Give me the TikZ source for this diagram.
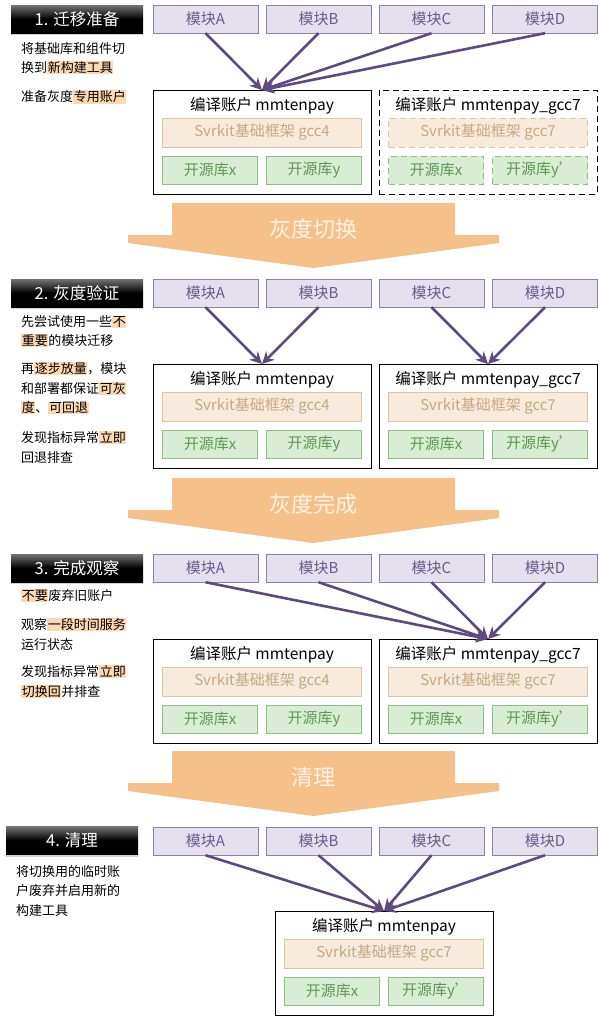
\documentclass[tikz,border=0pt]{standalone}
\usepackage{fontspec}
\setmainfont{Noto Sans CJK SC}
\usetikzlibrary{arrows.meta,shadows,positioning}

% Colors
\definecolor{modfill}{HTML}{E5DFEE}
\definecolor{moddraw}{HTML}{8D80A8}
\definecolor{modtext}{HTML}{6B5B8C}
\definecolor{linkcolor}{HTML}{5E4A80}
\definecolor{fwfill}{HTML}{F6EBDD}
\definecolor{fwdraw}{HTML}{DDC4A3}
\definecolor{fwtext}{HTML}{C9A77F}
\definecolor{libfill}{HTML}{D9EDD4}
\definecolor{libdraw}{HTML}{8FBF86}
\definecolor{libtext}{HTML}{5B9A50}
\definecolor{flowcolor}{HTML}{F6C08A}
\definecolor{flowtext}{HTML}{FFF3E6}
\definecolor{hlcolor}{HTML}{FDD8B0}

% highlighted words
\newcommand\hl[1]{{\setlength{\fboxsep}{0.6pt}\colorbox{hlcolor}{#1}}}

% one build account: [style] name, x, top y, title, gcc, second lib
\newcommand\account[7][]{%
\node[acc,#1,anchor=north] (#2) at (#3,#4) {};
\node[acc title] (#2-t) at ([yshift=-16pt]#2.north) {编译账户 #5};
\node[fw,#1] (#2-fw) at ([yshift=-42.5pt]#2.north) {Svrkit基础框架 #6};
\node[lib,#1] (#2-x) at ([xshift=-52pt,yshift=-80pt]#2.north) {开源库x};
\node[lib,#1] (#2-y) at ([xshift=52pt,yshift=-80pt]#2.north) {开源库#7};
}

% big orange arrow between the steps: name, top y, text
\newcommand\bigarrow[3]{%
\fill[flowcolor] (172,#2) -- (455,#2) -- (455,#2+32) -- (499,#2+32) -- (499,#2+40)
-- (313.5,#2+65) -- (128,#2+40) -- (128,#2+32) -- (172,#2+32) -- cycle;
\node[flow text] (#1) at (313.5,#2+26) {#3};
}

\begin{document}
\begin{tikzpicture}
[x=1pt,y=-1pt,
% Styles
stage/.style={minimum width=132pt,minimum height=28pt,inner sep=0pt,text=white,
  top color=black!55,bottom color=black,middle color=black,
  drop shadow={shadow xshift=0pt,shadow yshift=-2pt,opacity=0.35},
  font=\fontsize{16.5}{18}\selectfont},
module/.style={draw=moddraw,fill=modfill,text=modtext,minimum width=105pt,
  minimum height=28pt,inner sep=0pt,font=\fontsize{15}{18}\selectfont},
acc/.style={draw=black,line width=0.9pt,minimum width=218pt,minimum height=104pt,inner sep=0pt},
acc title/.style={inner sep=0pt,font=\fontsize{15.5}{18}\selectfont},
fw/.style={draw=fwdraw,fill=fwfill,text=fwtext,minimum width=199pt,minimum height=29pt,
  inner sep=0pt,font=\fontsize{15}{18}\selectfont},
lib/.style={draw=libdraw,fill=libfill,text=libtext,minimum width=95pt,minimum height=28pt,
  inner sep=0pt,font=\fontsize{15}{18}\selectfont},
spare/.style={dashed,dash pattern=on 6pt off 4pt},
link/.style={draw=linkcolor,line width=2.6pt,-{Stealth[length=12pt,width=12pt]}},
flow text/.style={text=flowtext,inner sep=0pt,font=\fontsize{22}{24}\selectfont},
note/.style={anchor=north west,inner sep=0pt,align=left,font=\fontsize{13}{19.5}\selectfont}]
\useasboundingbox (0,0) rectangle (598,1017);

% Step labels
\node[stage] (s1) at (77,19) {1. 迁移准备};
\node[stage] (s2) at (77,293) {2. 灰度验证};
\node[stage] (s3) at (77,568) {3. 完成观察};
\node[stage] (s4) at (72,840.5) {4. 清理};

% Modules
\foreach \s/\y in {1/19,2/293,3/568,4/841}
\foreach \m/\x in {A/205.5,B/318.5,C/431.5,D/545}
\node[module] (m\s\m) at (\x,\y) {模块\m};

% Build accounts
\account{acc1l}{262}{90}{mmtenpay}{gcc4}{y}
\account[spare]{acc1r}{488}{90}{mmtenpay\_gcc7}{gcc7}{y'}
\account{acc2l}{262}{364}{mmtenpay}{gcc4}{y}
\account{acc2r}{488}{364}{mmtenpay\_gcc7}{gcc7}{y'}
\account{acc3l}{262}{639}{mmtenpay}{gcc4}{y}
\account{acc3r}{488}{639}{mmtenpay\_gcc7}{gcc7}{y'}
\account{acc4}{384}{911}{mmtenpay}{gcc7}{y'}

% Links
\foreach \m in {A,B,C,D}
\draw[link] (m1\m.south) -- (acc1l.north);
\foreach \m in {A,B}
\draw[link] (m2\m.south) -- (acc2l.north);
\foreach \m in {C,D}
\draw[link] (m2\m.south) -- (acc2r.north);
\foreach \m in {A,B,C,D}
\draw[link] (m3\m.south) -- (acc3r.north);
\foreach \m in {A,B,C,D}
\draw[link] (m4\m.south) -- (acc4.north);

% Transitions
\bigarrow{f1}{203}{灰度切换}
\bigarrow{f2}{478}{灰度完成}
\bigarrow{f3}{751}{清理}

% Notes
\node[note] (n1a) at (21,42) {将基础库和组件切\\换到\hl{新构建工具}};
\node[note] (n1b) at (21,90) {准备灰度\hl{专用账户}};
\node[note] (n2a) at (21,315) {先尝试使用一些\hl{不}\\\hl{重要}的模块迁移};
\node[note] (n2b) at (21,362) {再\hl{逐步放量}，模块\\和部署都保证\hl{可灰}\\\hl{度}、\hl{可回退}};
\node[note] (n2c) at (21,431) {发现指标异常\hl{立即}\\回退排查};
\node[note] (n3a) at (21,589) {\hl{不要}废弃旧账户};
\node[note] (n3b) at (21,618) {观察\hl{一段时间服务}\\运行状态};
\node[note] (n3c) at (21,665) {发现指标异常\hl{立即}\\\hl{切换回}并排查};
\node[note] (n4a) at (16,865) {将切换用的临时账\\户废弃并启用新的\\构建工具};
\end{tikzpicture}
\end{document}
